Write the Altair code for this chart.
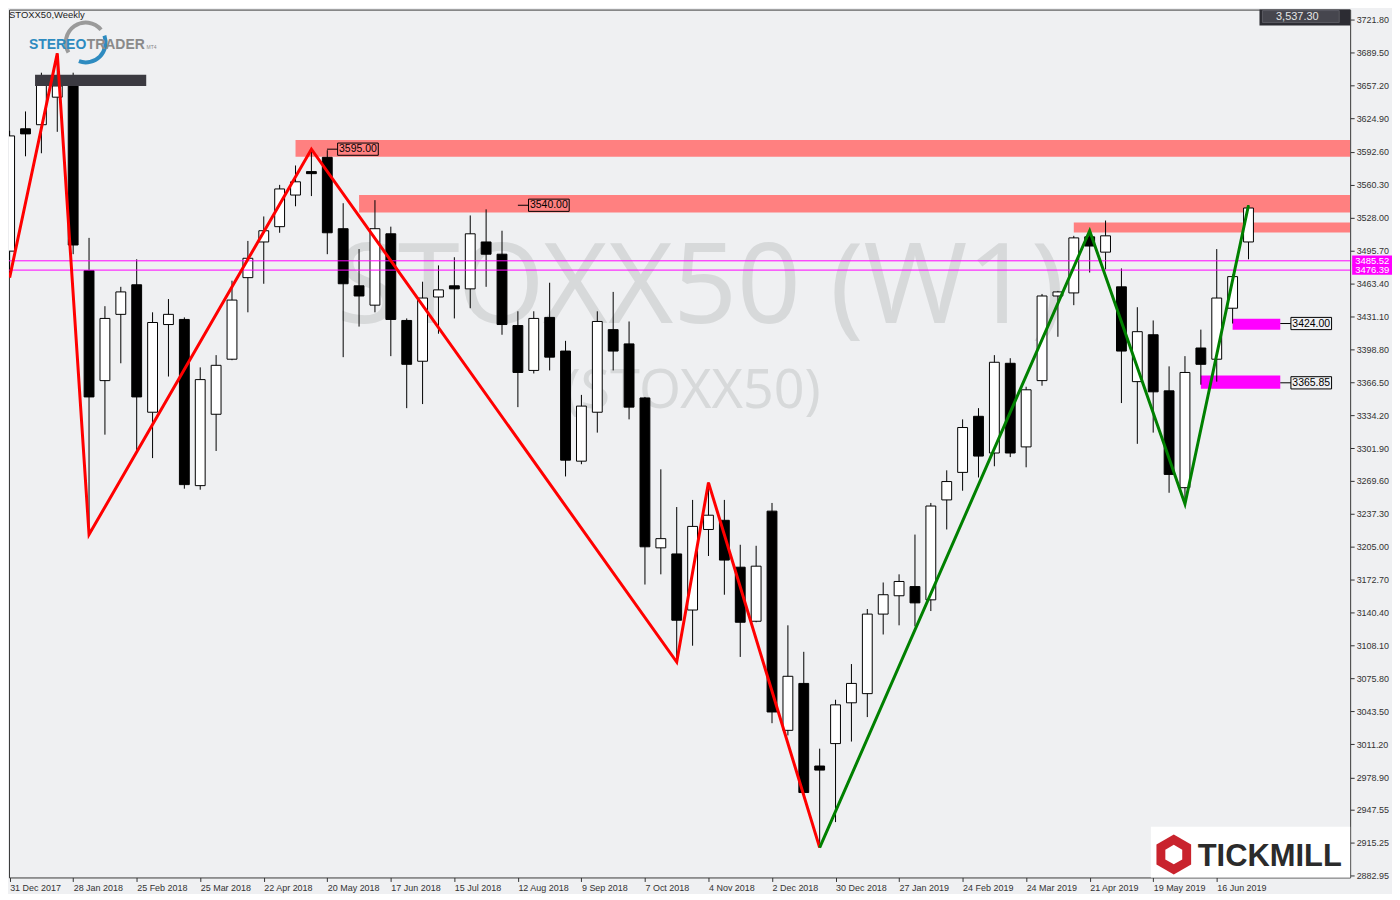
import altair as alt
import pandas as pd

# ---------------- data ----------------
week_labels = ["31 Dec 2017", "28 Jan 2018", "25 Feb 2018", "25 Mar 2018", "22 Apr 2018",
               "20 May 2018", "17 Jun 2018", "15 Jul 2018", "12 Aug 2018", "9 Sep 2018",
               "7 Oct 2018", "4 Nov 2018", "2 Dec 2018", "30 Dec 2018", "27 Jan 2019",
               "24 Feb 2019", "24 Mar 2019", "21 Apr 2019", "19 May 2019", "16 Jun 2019"]

opens = [3495, 3615, 3619, 3646, 3662, 3476, 3368, 3433, 3462, 3337,
         3423, 3428, 3265, 3335, 3389, 3469, 3504, 3519, 3550, 3573,
         3587, 3517, 3461, 3442, 3512, 3427, 3387, 3450, 3461, 3458,
         3504, 3492, 3422, 3378, 3430, 3397, 3289, 3337, 3418, 3404,
         3351, 3204, 3198, 3143, 3222, 3231, 3185, 3132, 3240, 3025,
         3071, 2990, 3012, 3052, 3061, 3139, 3157, 3166, 3153, 3251,
         3278, 3333, 3297, 3385, 3303, 3368, 3451, 3454, 3509, 3494,
         3460, 3367, 3413, 3358, 3263, 3400, 3389, 3439, 3504]
highs = [3613, 3632, 3670, 3689, 3670, 3508, 3441, 3460, 3487, 3435,
         3448, 3430, 3381, 3393, 3466, 3505, 3529, 3560, 3579, 3595,
         3594, 3542, 3497, 3545, 3519, 3429, 3465, 3481, 3489, 3530,
         3536, 3515, 3436, 3436, 3464, 3407, 3354, 3436, 3455, 3426,
         3352, 3281, 3244, 3251, 3268, 3251, 3207, 3206, 3248, 3128,
         3102, 3007, 3055, 3090, 3144, 3170, 3178, 3217, 3248, 3280,
         3330, 3341, 3393, 3390, 3362, 3453, 3456, 3510, 3515, 3525,
         3478, 3440, 3427, 3382, 3392, 3418, 3497, 3472, 3540]
lows = [3470, 3588, 3591, 3612, 3492, 3217, 3315, 3385, 3300, 3292,
        3372, 3262, 3261, 3299, 3388, 3435, 3463, 3513, 3539, 3549,
        3492, 3391, 3421, 3435, 3392, 3341, 3345, 3414, 3429, 3439,
        3460, 3413, 3342, 3375, 3378, 3274, 3286, 3317, 3378, 3330,
        3168, 3178, 3092, 3108, 3196, 3158, 3097, 3131, 3032, 3020,
        2962, 2910, 2935, 3014, 3038, 3119, 3128, 3127, 3142, 3222,
        3260, 3273, 3284, 3293, 3283, 3363, 3411, 3442, 3474, 3477,
        3346, 3306, 3317, 3258, 3247, 3364, 3367, 3424, 3487]
closes = [3608, 3610, 3658, 3657, 3501, 3352, 3429, 3455, 3352, 3425,
          3433, 3266, 3369, 3383, 3447, 3488, 3515, 3556, 3563, 3571,
          3513, 3463, 3451, 3517, 3428, 3384, 3449, 3457, 3458, 3512,
          3492, 3423, 3376, 3429, 3391, 3290, 3343, 3426, 3397, 3342,
          3205, 3213, 3133, 3225, 3236, 3192, 3131, 3186, 3043, 3078,
          2964, 2986, 3050, 3071, 3139, 3158, 3171, 3150, 3245, 3269,
          3322, 3294, 3386, 3297, 3359, 3451, 3455, 3508, 3500, 3510,
          3397, 3416, 3357, 3276, 3376, 3384, 3449, 3470, 3537.3]

red_zz_idx = [0, 3, 5, 19, 42, 44, 51]
red_zz_px = [3469, 3689, 3217, 3595, 3092, 3268, 2910]
green_zz_idx = [51, 68, 74, 78]
green_zz_px = [2910, 3515, 3247, 3540]

zone_start = [18, 22, 67, 77, 75]
zone_end = [84.4, 84.4, 84.4, 80, 80]
zone_top = [3604, 3550, 3523, 3428.6, 3373]
zone_bottom = [3587.5, 3533, 3513.3, 3418, 3360]
zone_kind = ["res", "res", "res", "sup", "sup"]

dark_start, dark_end, dark_top, dark_bottom = 1.6, 8.6, 3668, 3657

hlines = [3485.52, 3476.39]
hline_labels = ["3485.52", "3476.39"]

level_text = ["3595.00", "3540.00", "3424.00", "3365.85"]
level_price = [3595, 3540, 3424, 3365.85]
level_at = [19.98, 32.0, 80.0, 80.0]

y_ticks = [3721.80, 3689.50, 3657.20, 3624.90, 3592.60, 3560.30, 3528.00, 3495.70,
           3463.40, 3431.10, 3398.80, 3366.50, 3334.20, 3301.90, 3269.60, 3237.30,
           3205.00, 3172.70, 3140.40, 3108.10, 3075.80, 3043.50, 3011.20, 2978.90,
           2947.55, 2915.25, 2882.95]

last_price = "3,537.30"

# ---------------- tables ----------------
n = len(opens)
candles = pd.DataFrame({"i": list(range(n)), "open": opens, "high": highs,
                        "low": lows, "close": closes})
candles["top"] = candles[["open", "close"]].max(axis=1)
candles["bot"] = candles[["open", "close"]].min(axis=1)
candles["xl"] = candles["i"] - 0.31
candles["xr"] = candles["i"] + 0.31
candles["dir"] = ["up" if c >= o else "down" for o, c in zip(opens, closes)]

zones = pd.DataFrame({"x0": zone_start, "x1": zone_end, "top": zone_top,
                      "bot": zone_bottom, "kind": zone_kind})
dark = pd.DataFrame({"x0": [dark_start], "x1": [dark_end], "top": [dark_top], "bot": [dark_bottom]})
red_zz = pd.DataFrame({"i": red_zz_idx, "p": red_zz_px, "o": list(range(len(red_zz_idx)))})
green_zz = pd.DataFrame({"i": green_zz_idx, "p": green_zz_px, "o": list(range(len(green_zz_idx)))})
hl = pd.DataFrame({"p": hlines, "t": hline_labels})
levels = pd.DataFrame({"t": level_text, "p": level_price, "a": level_at})
levels["b0"] = levels["a"] + 0.67
levels["b1"] = levels["a"] + 3.23
levels["bc"] = (levels["b0"] + levels["b1"]) / 2
levels["yt"] = levels["p"] + 6
levels["yb"] = levels["p"] - 6
one = pd.DataFrame({"k": [0]})

W, H = 1346, 871
BG = "#eff0f2"
xs = alt.Scale(domain=[-0.04, 84.4], nice=False, zero=False)
ys = alt.Scale(domain=[2880.7, 3731.9], nice=False, zero=False)

label_expr = "[" + ",".join("'%s'" % d for d in week_labels) + "][round(datum.value/4)]"
xaxis = alt.Axis(values=list(range(0, 77, 4)), labelExpr=label_expr, title=None, grid=False,
                 domain=False, tickSize=4, tickColor="#333333", labelAlign="left",
                 labelBaseline="top", labelPadding=2, labelFlush=False, labelOverlap=False,
                 labelFont="Liberation Sans", labelFontSize=9, labelColor="#333333")
yaxis = alt.Axis(values=y_ticks, format=".2f", orient="right", title=None, grid=False,
                 domain=False, tickSize=4, tickColor="#333333", labelAlign="left",
                 labelBaseline="middle", labelPadding=2, labelFlush=False, labelOverlap=False,
                 labelFont="Liberation Sans", labelFontSize=9, labelColor="#333333")

def X(f):
    return alt.X(f, scale=xs, axis=xaxis)

def Y(f):
    return alt.Y(f, scale=ys, axis=yaxis)

# ---------------- layers ----------------
wm1 = alt.Chart(one).mark_text(text="STOXX50 (W1)", font="Noto Sans", fontSize=112,
                               color="#d7d9da", align="center", baseline="alphabetic").encode(
    x=alt.value(694), y=alt.value(315))
wm2 = alt.Chart(one).mark_text(text="(STOXX50)", font="Noto Sans", fontSize=54,
                               color="#d7d9da", align="center", baseline="alphabetic").encode(
    x=alt.value(686), y=alt.value(400))

zone_layer = alt.Chart(zones).mark_rect(clip=True).encode(
    x=X("x0:Q"), x2="x1:Q", y=Y("top:Q"), y2="bot:Q",
    color=alt.Color("kind:N", scale=alt.Scale(domain=["res", "sup"], range=["#ff8080", "#ff00ff"]),
                    legend=None))

wicks = alt.Chart(candles).mark_rule(color="black", strokeWidth=1, clip=True).encode(
    x=X("i:Q"), y=Y("low:Q"), y2="high:Q")
bodies = alt.Chart(candles).mark_rect(stroke="black", strokeWidth=1, clip=True).encode(
    x=X("xl:Q"), x2="xr:Q", y=Y("top:Q"), y2="bot:Q",
    fill=alt.Fill("dir:N", scale=alt.Scale(domain=["up", "down"], range=["#ffffff", "#000000"]),
                  legend=None))

dark_layer = alt.Chart(dark).mark_rect(color="#3b3a41", clip=True).encode(
    x=X("x0:Q"), x2="x1:Q", y=Y("top:Q"), y2="bot:Q")

hl_layer = alt.Chart(hl).mark_rule(color="#ff00ff", strokeWidth=1).encode(y=Y("p:Q"))

red_line = alt.Chart(red_zz).mark_line(color="#ff0000", strokeWidth=3, clip=True).encode(
    x=X("i:Q"), y=Y("p:Q"), order="o:Q")
green_line = alt.Chart(green_zz).mark_line(color="#008000", strokeWidth=3, clip=True).encode(
    x=X("i:Q"), y=Y("p:Q"), order="o:Q")

lvl_line = alt.Chart(levels).mark_rule(color="black", strokeWidth=1).encode(
    x=X("a:Q"), x2="b0:Q", y=Y("p:Q"))
lvl_box = alt.Chart(levels).mark_rect(fill=None, stroke="black", strokeWidth=1).encode(
    x=X("b0:Q"), x2="b1:Q", y=Y("yt:Q"), y2="yb:Q")
lvl_text = alt.Chart(levels).mark_text(font="Liberation Sans", fontSize=10.5, color="black",
                                       align="center", baseline="middle").encode(
    x=X("bc:Q"), y=Y("p:Q"), text="t:N")

# magenta price tags on the right axis
hl_tag = alt.Chart(hl).mark_rect(color="#ff00ff").encode(
    x=alt.value(1348), x2=alt.value(1388),
    y=alt.Y("yt:Q", scale=ys, axis=yaxis), y2="yb:Q").transform_calculate(
    yt="datum.p + 5.2", yb="datum.p - 4.6")
hl_tag_text = alt.Chart(hl).mark_text(font="Liberation Sans", fontSize=9.5, color="white",
                                      align="left", baseline="middle").encode(
    x=alt.value(1351), y=Y("p:Q"), text="t:N")

# top-right last price box
pbox_outer = alt.Chart(one).mark_rect(color="#2c2c33").encode(
    x=alt.value(1255), x2=alt.value(1346), y=alt.value(0), y2=alt.value(16))
pbox_inner = alt.Chart(one).mark_rect(color="#46464e", stroke="#5a5a62", strokeWidth=1).encode(
    x=alt.value(1258), x2=alt.value(1335), y=alt.value(1), y2=alt.value(13))
pbox_text = alt.Chart(one).mark_text(text=last_price, font="Liberation Sans", fontSize=11,
                                     color="#e6e6e6", align="center", baseline="middle").encode(
    x=alt.value(1293), y=alt.value(7))

# title
title_t = alt.Chart(one).mark_text(text="STOXX50,Weekly", font="Liberation Sans", fontSize=9.5,
                                   color="#222222", align="left", baseline="top").encode(
    x=alt.value(0), y=alt.value(0))

# StereoTrader logo
arc_gray = alt.Chart(one).mark_arc(theta=4.19, theta2=7.16, radius=22, radius2=18,
                                   color="#9a9a9a").encode(x=alt.value(77), y=alt.value(33))
arc_blue = alt.Chart(one).mark_arc(theta=1.22, theta2=3.49, radius=22, radius2=18,
                                   color="#2e8bc0").encode(x=alt.value(77), y=alt.value(33))
st1 = alt.Chart(one).mark_text(text="STEREO", font="Liberation Sans", fontSize=14,
                               fontWeight="bold", color="#2e8bc0", align="left",
                               baseline="alphabetic").encode(x=alt.value(20), y=alt.value(40))
st2 = alt.Chart(one).mark_text(text="TRADER", font="Liberation Sans", fontSize=14,
                               fontWeight="bold", color="#8a8a8a", align="left",
                               baseline="alphabetic").encode(x=alt.value(78), y=alt.value(40))
st3 = alt.Chart(one).mark_text(text="MT4", font="Liberation Sans", fontSize=5,
                               color="#8a8a8a", align="left", baseline="alphabetic").encode(
    x=alt.value(138), y=alt.value(40))

# Tickmill logo
hexpath = "M0,-1 L0.87,-0.5 L0.87,0.5 L0,1 L-0.87,0.5 L-0.87,-0.5 Z"
tm_box = alt.Chart(one).mark_rect(color="white").encode(
    x=alt.value(1146), x2=alt.value(1346), y=alt.value(820), y2=alt.value(871))
tm_hex = alt.Chart(one).mark_point(shape=hexpath, size=1600, filled=True, opacity=1,
                                   color="#c9232d").encode(x=alt.value(1169), y=alt.value(848))
tm_hex2 = alt.Chart(one).mark_point(shape=hexpath, size=380, filled=True, opacity=1,
                                    color="white").encode(x=alt.value(1169), y=alt.value(848))
tm_text = alt.Chart(one).mark_text(text="TICKMILL", font="Liberation Sans", fontSize=31,
                                   fontWeight="bold", color="#2b2b2b", align="left",
                                   baseline="alphabetic").encode(x=alt.value(1193), y=alt.value(859))

chart = alt.layer(
    wm1, wm2, zone_layer, wicks, bodies, dark_layer, hl_layer, red_line, green_line,
    lvl_line, lvl_box, lvl_text, hl_tag, hl_tag_text, pbox_outer, pbox_inner, pbox_text,
    title_t, arc_gray, arc_blue, st1, st2, st3, tm_box, tm_hex, tm_hex2, tm_text
).properties(
    width=W, height=H, padding=0, background=BG
).configure_view(stroke="#3a3a3a", strokeWidth=1)

chart.save("out.html", embed_options={"renderer": "svg", "actions": False})
